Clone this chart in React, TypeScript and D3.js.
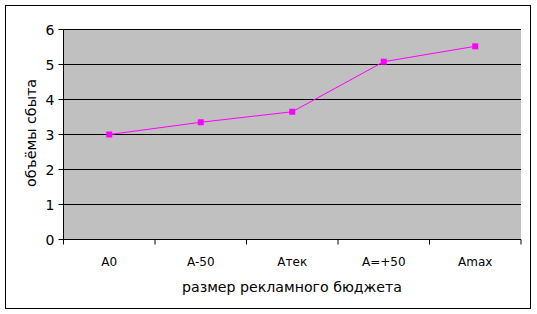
import React from "react";
import * as d3 from "d3";

const categories = ["A0", "A-50", "Aтек", "A=+50", "Amax"];
const values = [3.0, 3.35, 3.65, 5.08, 5.52];
const yTicks = [0, 1, 2, 3, 4, 5, 6];
const yTitle = "объёмы сбыта";
const xTitle = "размер рекламного бюджета";

export default function App() {
  const W = 537, H = 314;
  const left = 63.5, right = 521, top = 29.5, bottom = 239.5;
  const x = d3.scaleBand<string>().domain(categories).range([left, right]);
  const y = d3.scaleLinear().domain([0, 6]).range([bottom, top]);
  const line = d3.line<number>()
    .x((_, i) => (x(categories[i]) as number) + x.bandwidth() / 2)
    .y((d) => y(d));
  const font = "DejaVu Sans, Verdana, sans-serif";
  return (
    <svg width={W} height={H} style={{ position: "absolute", left: 0, top: 0 }} fontFamily={font}>
      <rect x={0} y={0} width={W} height={H} fill="#fff" />
      <rect x={5.5} y={5.5} width={525} height={303} fill="#fff" stroke="#000" strokeWidth={1} />
      <rect x={left} y={top} width={right - left} height={bottom - top} fill="#C0C0C0" />
      {yTicks.map((t) => (
        <g key={t}>
          {t > 0 && <line x1={left} x2={right} y1={y(t)} y2={y(t)} stroke="#000" strokeWidth={1} />}
          <line x1={left - 5} x2={left} y1={y(t)} y2={y(t)} stroke="#000" />
          <text x={left - 9} y={y(t)} dy="0.36em" textAnchor="end" fontSize={14}>{t}</text>
        </g>
      ))}
      <line x1={left} x2={left} y1={top} y2={bottom} stroke="#000" />
      <line x1={left} x2={right} y1={bottom} y2={bottom} stroke="#000" />
      {categories.map((c, i) => (
        <g key={c}>
          <line x1={(x(c) as number) + x.bandwidth()} x2={(x(c) as number) + x.bandwidth()} y1={bottom} y2={bottom + 5} stroke="#000" />
          {i === 0 && <line x1={left} x2={left} y1={bottom} y2={bottom + 5} stroke="#000" />}
          <text x={(x(c) as number) + x.bandwidth() / 2} y={262} dy="0.36em" textAnchor="middle" fontSize={12}>{c}</text>
        </g>
      ))}
      <path d={line(values) || ""} fill="none" stroke="#FF00FF" strokeWidth={1} />
      {values.map((v, i) => (
        <rect key={i} x={(x(categories[i]) as number) + x.bandwidth() / 2 - 3} y={y(v) - 3} width={6} height={6} fill="#FF00FF" />
      ))}
      <text x={292} y={287} dy="0.36em" textAnchor="middle" fontSize={14} textLength={220} lengthAdjust="spacingAndGlyphs">{xTitle}</text>
      <text transform={`translate(31,133) rotate(-90)`} dy="0.36em" textAnchor="middle" fontSize={14} textLength={108} lengthAdjust="spacingAndGlyphs">{yTitle}</text>
    </svg>
  );
}
